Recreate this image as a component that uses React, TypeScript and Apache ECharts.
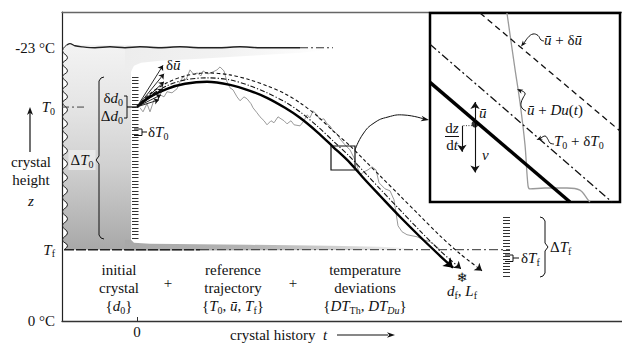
import React, { useEffect, useRef } from 'react';
import * as echarts from 'echarts';

const FONT = '"Liberation Serif", "Times New Roman", serif';

// ---------- main plot axes: t = crystal history, z = height (°C below 0) ----------
const tRange = [-7.5, 48.5];
const zRange = [0, 26];
const yTickValues = [0, 6, 18, 23];
const yTickLabels = ['0 °C', '{i|T}{s|f}', '{i|T}{s|0}', '-23 °C'];
const xTickValues = [0];
const xTickLabels = ['0'];

// ---------- crystal (gray region) outlines ----------
const crystalLeftEdge = [
  [-7.0, 23.24], [-7.45, 22.74], [-6.95, 22.15], [-7.45, 21.64], [-6.95, 21.05], [-7.45, 20.55],
  [-6.95, 19.96], [-7.45, 19.45], [-6.95, 18.86], [-7.45, 18.36], [-6.95, 17.77], [-7.45, 17.18],
  [-6.95, 16.59], [-7.45, 16.09], [-6.95, 15.5], [-7.45, 14.91], [-6.95, 14.32], [-7.45, 13.82],
  [-6.95, 13.23], [-7.45, 12.64], [-6.95, 12.05], [-7.45, 11.54], [-6.95, 10.96], [-7.45, 10.37],
  [-6.95, 9.78], [-7.45, 9.19], [-6.95, 8.6], [-7.45, 8.01], [-6.95, 7.42], [-7.45, 6.83],
  [-6.95, 6.33], [-7.3, 6.0],
];
const crystalColumnRight = [[-0.6, 23.2], [-0.6, 6.0]];
const topBand = [
  [-1.2, 23.16], [19.3, 23.07], [19.3, 22.82], [16.3, 22.57], [11.3, 22.31], [6.3, 22.06],
  [2.3, 21.89], [0.4, 21.72], [-0.3, 21.47], [-0.6, 20.97], [-1.2, 20.97],
];
const bottomBand = [
  [-1.2, 6.83], [-0.6, 6.83], [-0.3, 6.58], [1.3, 6.5], [11.3, 6.41], [19.3, 6.33],
  [24.3, 6.24], [27.3, 6.12], [27.3, 5.99], [-1.2, 5.91],
];
const topBoundary = [
  [-7.0, 23.24], [-6.7, 23.34], [-6.2, 23.16], [-5.5, 23.07], [-4.2, 22.99], [-2.7, 23.07],
  [-1.2, 22.99], [0.3, 23.07], [2.3, 22.99], [4.3, 23.07], [6.3, 22.99], [8.3, 22.99],
  [10.3, 23.07], [12.3, 22.99], [14.3, 22.99], [16.3, 22.99],
];
const topBoundaryTail = [[16.3, 22.99], [19.6, 22.99]];
const tfLineSolid = [[-7.3, 6.0], [6.3, 6.0]];
const tfLineDashDot = [[6.3, 6.0], [37.3, 6.0]];
const t0Line = [[-7.5, 18.0], [-5.1, 18.0]];

// ---------- trajectories ----------
const trajRef = [
  [0, 18.02], [1.3, 18.86], [3.0, 19.54], [4.8, 19.96], [7.0, 20.13], [9.3, 19.87], [11.3, 19.37],
  [13.0, 18.78], [14.8, 17.94], [16.3, 17.1], [18.0, 15.92], [19.6, 14.66], [21.3, 13.31],
  [22.8, 11.88], [24.3, 10.54], [26.3, 8.77], [28.3, 7.09], [30.3, 5.49], [31.6, 4.49],
];
const trajT0 = [
  [0, 18.02], [1.3, 18.95], [3.0, 19.79], [4.8, 20.29], [7.0, 20.46], [9.3, 20.29], [11.3, 19.79],
  [13.0, 19.2], [14.8, 18.44], [16.3, 17.6], [18.0, 16.42], [19.6, 15.16], [21.3, 13.81],
  [22.8, 12.47], [24.3, 11.12], [26.3, 9.35], [28.3, 7.59], [30.3, 5.91], [32.4, 4.39],
];
const trajU = [
  [0, 18.02], [1.3, 19.12], [3.0, 20.04], [4.8, 20.63], [7.0, 20.88], [9.3, 20.71], [11.3, 20.29],
  [13.0, 19.79], [14.8, 19.12], [16.3, 18.36], [18.0, 17.27], [19.6, 16.0], [21.3, 14.74],
  [22.8, 13.48], [24.3, 12.22], [26.3, 10.54], [28.3, 8.85], [30.3, 7.17], [32.3, 5.66], [34.5, 4.23],
];
const trajNoise = [
  [0.3, 17.94], [0.6, 17.6], [1.0, 18.28], [1.3, 17.6], [1.7, 18.61], [2.0, 18.44], [2.3, 19.03],
  [2.7, 18.86], [3.0, 19.29], [3.5, 19.2], [4.0, 19.54], [4.3, 20.13], [4.6, 20.55], [4.9, 20.29],
  [5.3, 21.13], [5.7, 20.71], [6.0, 20.88], [6.4, 20.63], [6.6, 21.04], [7.1, 20.79], [7.6, 20.96],
  [8.0, 21.13], [8.3, 21.38], [8.7, 21.04], [9.0, 20.13], [9.3, 19.62], [9.6, 19.45], [10.0, 18.86],
  [10.3, 18.53], [10.7, 18.86], [11.0, 18.7], [11.4, 18.28], [11.6, 17.94], [12.0, 17.52],
  [12.3, 17.18], [12.7, 16.85], [13.0, 16.51], [13.4, 16.85], [13.7, 16.68], [14.1, 17.18],
  [14.4, 17.01], [14.7, 16.85], [15.0, 16.59], [15.4, 16.85], [15.7, 16.51], [16.3, 16.42],
  [16.7, 16.85], [17.0, 17.35], [17.3, 17.1], [17.6, 17.69], [18.0, 17.35], [18.3, 16.93],
  [18.7, 17.01], [19.0, 16.59], [19.3, 16.42], [19.6, 16.0], [20.0, 15.75], [20.3, 15.32],
  [20.8, 14.82], [21.3, 14.4], [21.7, 13.73], [22.0, 13.06], [22.3, 12.3], [22.7, 12.55],
  [23.1, 12.72], [23.5, 12.97], [23.9, 12.72], [24.2, 11.63], [24.8, 11.12], [25.3, 10.96],
  [25.7, 10.2], [25.9, 9.1], [26.1, 8.01], [26.5, 7.51], [27.0, 7.26], [27.5, 7.17], [28.0, 7.09],
  [28.6, 6.84], [29.3, 6.67], [29.9, 6.33], [30.3, 5.99],
];
const fanTips = [[2.6, 21.51], [2.7, 20.8], [2.7, 20.13], [2.6, 19.54], [2.4, 19.03], [2.2, 18.61]];

// ---------- inset (local 0..100 coordinates) ----------
const insetSolid = [[0, 63.3], [73.7, 0]];
const insetDashDot = [[0, 83.5], [95.8, 0]];
const insetDashed = [[26.3, 100], [100, 37.6]];
const insetGray = [
  [40.5, 100], [44.7, 70.6], [47.4, 52.4], [50.0, 30.2], [51.6, 8.5], [52.6, 6.9], [60.5, 7.4],
  [72.1, 7.4], [78.9, 6.3], [83.2, 1.1], [84.2, 0],
];
const insetDot = [[23.7, 41.3]];
const insetVelUp = [[23.7, 41.3], [23.7, 52.9]];
const insetVelDown = [[23.7, 41.3], [23.7, 15.6]];
const insetDzdt = [[16.8, 40.4], [16.8, 26.6]];
const insetDotted = [[17.6, 40.4], [23.0, 40.4]];

// hatch scales (number of divisions)
const hatchT0Count = 48;
const hatchTfCount = 18;

const RICH: any = {
  n: { fontFamily: FONT, fontSize: 15, lineHeight: 18, color: '#111', verticalAlign: 'middle' },
  i: { fontFamily: FONT, fontSize: 15, lineHeight: 18, color: '#111', fontStyle: 'italic', verticalAlign: 'middle' },
  s: { fontFamily: FONT, fontSize: 10, lineHeight: 11, color: '#111', verticalAlign: 'bottom' },
  si: { fontFamily: FONT, fontSize: 10, lineHeight: 11, color: '#111', fontStyle: 'italic', verticalAlign: 'bottom' },
};

function head(from: number[], to: number[], len = 7, wid = 2.6, color = '#111') {
  const dx = to[0] - from[0], dy = to[1] - from[1];
  const L = Math.hypot(dx, dy) || 1;
  const ux = dx / L, uy = dy / L, px = -uy, py = ux;
  const bx = to[0] - ux * len, by = to[1] - uy * len;
  const nx = to[0] - ux * len * 0.72, ny = to[1] - uy * len * 0.72;
  return {
    type: 'polygon', z: 21, silent: true,
    shape: { points: [to, [bx + px * wid, by + py * wid], [nx, ny], [bx - px * wid, by - py * wid]] },
    style: { fill: color, stroke: null },
  };
}
function pl(points: number[][], opt: any = {}) {
  return {
    type: 'polyline', z: 20, silent: true,
    shape: { points, smooth: opt.smooth || 0 },
    style: { stroke: opt.color || '#111', lineWidth: opt.width || 1, fill: null, lineDash: opt.dash || null },
  };
}
function txt(x: number, y: number, text: string, align = 'center', extra: any = {}) {
  return {
    type: 'text', x, y, z: 22, silent: true,
    style: {
      text, fill: '#111', fontFamily: FONT, fontSize: 15, lineHeight: 18,
      align, verticalAlign: 'middle', textAlign: align, textVerticalAlign: 'middle', rich: RICH, ...extra,
    },
  };
}

const polySeries = (pts: number[][], fill: any) => ({
  type: 'custom', coordinateSystem: 'cartesian2d', xAxisIndex: 0, yAxisIndex: 0, silent: true, z: 1,
  data: [[0, 0]], encode: { x: 0, y: 1 },
  renderItem: (_p: any, api: any) => ({
    type: 'polygon',
    shape: { points: pts.map((p) => api.coord(p)) },
    style: { fill, stroke: 'none' },
  }),
});
const lineS = (data: number[][], color: string, width: number, type: any, opt: any = {}) => ({
  type: 'line', data, symbol: 'none', silent: true,
  xAxisIndex: opt.xi ?? 0, yAxisIndex: opt.yi ?? 0,
  smooth: opt.smooth ?? false, z: opt.z ?? 3,
  lineStyle: { color, width, type, cap: 'butt' },
});
const tipSeg = (d: number[][]) => {
  const a = d[d.length - 2], b = d[d.length - 1];
  return [[b[0] - (b[0] - a[0]) * 0.08, b[1] - (b[1] - a[1]) * 0.08], b];
};
const arrowS = (segs: number[][][], color: string, width: number, type: any, size: number, xi = 0, yi = 0) => ({
  type: 'lines', coordinateSystem: 'cartesian2d', xAxisIndex: xi, yAxisIndex: yi, silent: true, z: 4,
  symbol: ['none', 'arrow'], symbolSize: size,
  lineStyle: { color, width, type, opacity: 1, curveness: 0 },
  data: segs.map((c) => ({ coords: c })),
});

export default function App() {
  const ref = useRef<HTMLDivElement>(null);
  useEffect(() => {
    document.body.style.margin = '0';
    const chart = echarts.init(ref.current!, null, { renderer: 'svg', width: 622, height: 345 });

    const hatchAxis = (grid: number, max: number) => ({
      gridIndex: grid, type: 'value', min: 0, max, interval: 1,
      axisLine: { show: false }, axisTick: { show: false }, axisLabel: { show: false },
      splitLine: { show: true, lineStyle: { color: '#333', width: 1 } },
    });
    const hidden = (grid: number, min: number, max: number) => ({
      gridIndex: grid, type: 'value', min, max, show: false, splitLine: { show: false },
    });

    const colGrad = new echarts.graphic.LinearGradient(0, 0, 0, 1, [
      { offset: 0, color: '#f3f3f3' }, { offset: 0.3, color: '#e5e5e5' },
      { offset: 0.6, color: '#d0d0d0' }, { offset: 1, color: '#a8a8a8' },
    ]);
    const topGrad = new echarts.graphic.LinearGradient(0, 0, 1, 0, [
      { offset: 0, color: '#ededed' }, { offset: 0.5, color: '#f2f2f2' }, { offset: 1, color: '#ffffff' },
    ]);
    const botGrad = new echarts.graphic.LinearGradient(0, 0, 1, 0, [
      { offset: 0, color: '#a8a8a8' }, { offset: 0.45, color: '#b4b4b4' },
      { offset: 0.8, color: '#d6d6d6' }, { offset: 1, color: '#f6f6f6' },
    ]);

    const option: any = {
      animation: false,
      textStyle: { fontFamily: FONT },
      grid: [
        { left: 62, top: 12, right: 0, bottom: 24 },
        { left: 132, top: 77, width: 6.5, height: 161 },
        { left: 503, top: 217, width: 7, height: 59 },
        { left: 430, top: 13, width: 190, height: 189, show: true, borderColor: '#000', borderWidth: 2.5, backgroundColor: '#fff', z: 5 },
      ],
      xAxis: [
        {
          gridIndex: 0, type: 'value', min: tRange[0], max: tRange[1], position: 'bottom',
          axisLine: { show: true, onZero: false, lineStyle: { color: '#333', width: 1.3 } },
          axisTick: { show: true, inside: true, length: 4, customValues: xTickValues, lineStyle: { color: '#333' } },
          axisLabel: {
            customValues: xTickValues, margin: 3, fontFamily: FONT, fontSize: 15, color: '#111', lineHeight: 15,
            formatter: (v: number) => xTickLabels[xTickValues.indexOf(v)] ?? '',
          },
          splitLine: { show: false },
        },
        {
          gridIndex: 0, type: 'value', min: tRange[0], max: tRange[1], position: 'top',
          axisLine: { show: true, onZero: false, lineStyle: { color: '#666', width: 1.4 } },
          axisTick: { show: false }, axisLabel: { show: false }, splitLine: { show: false },
        },
        hidden(1, 0, 1),
        hidden(2, 0, 1),
        hidden(3, 0, 100),
      ],
      yAxis: [
        {
          gridIndex: 0, type: 'value', min: zRange[0], max: zRange[1],
          axisLine: { show: true, onZero: false, lineStyle: { color: '#222', width: 1.2 } },
          axisTick: { show: false },
          axisLabel: {
            customValues: yTickValues, margin: 7, fontFamily: FONT, fontSize: 15, color: '#111', lineHeight: 18,
            rich: RICH,
            formatter: (v: number) => yTickLabels[yTickValues.indexOf(v)] ?? '',
          },
          splitLine: { show: false },
        },
        hatchAxis(1, hatchT0Count),
        hatchAxis(2, hatchTfCount),
        hidden(3, 0, 100),
      ],
      series: [
        polySeries([...crystalColumnRight, ...crystalLeftEdge.slice().reverse()], colGrad),
        polySeries(topBand, topGrad),
        polySeries(bottomBand, botGrad),
        lineS(crystalLeftEdge, '#222', 1, 'solid', { smooth: 0.5 }),
        lineS(topBoundary, '#222', 1.4, 'solid', { smooth: 0.3 }),
        lineS(topBoundaryTail, '#333', 1.2, [8, 3, 2, 3]),
        lineS(tfLineSolid, '#222', 1.4, [10, 2]),
        lineS(tfLineDashDot, '#333', 1, [9, 3, 2, 3]),
        lineS(t0Line, '#444', 1, [7, 3, 2, 3]),
        lineS(trajNoise, '#9a9a9a', 1, 'solid'),
        lineS(trajU, '#111', 1.1, [3.5, 2.5], { smooth: 0.3 }),
        lineS(trajT0, '#111', 1.1, [5, 2, 1.2, 2], { smooth: 0.3 }),
        lineS(trajRef, '#000', 2.4, 'solid', { smooth: 0.3 }),
        arrowS([tipSeg(trajRef)], '#000', 1.5, 'solid', 9),
        arrowS([tipSeg(trajT0), tipSeg(trajU)], '#111', 1, 'solid', 7),
        arrowS(fanTips.map((p) => [trajRef[0], p]), '#111', 0.9, 'solid', 5),
        // inset
        lineS(insetGray, '#9a9a9a', 1.3, 'solid', { xi: 4, yi: 3, smooth: 0.35, z: 6 }),
        lineS(insetDashed, '#111', 1.3, [6, 4], { xi: 4, yi: 3, z: 6 }),
        lineS(insetDashDot, '#111', 1.3, [8, 3, 2, 3], { xi: 4, yi: 3, z: 6 }),
        lineS(insetSolid, '#000', 3.5, 'solid', { xi: 4, yi: 3, z: 6 }),
        lineS(insetDotted, '#333', 1, [1, 1.5], { xi: 4, yi: 3, z: 6 }),
        { ...arrowS([insetVelUp, insetVelDown, insetDzdt], '#111', 1.1, 'solid', 7, 4, 3), z: 7 },
        {
          type: 'scatter', xAxisIndex: 4, yAxisIndex: 3, data: insetDot, symbol: 'circle', symbolSize: 7,
          itemStyle: { color: '#000' }, silent: true, z: 8,
        },
      ],
      graphic: [
        // left labels
        txt(31, 162, 'crystal'), txt(31, 180, 'height'), txt(31, 201, '{i|z}'),
        pl([[30, 152], [30, 112]], { width: 1.2 }), head([30, 140], [30, 107], 8, 3),
        // ΔT0 brace
        pl([[104, 77], [101, 78], [99, 81], [99, 156], [96, 160], [99, 164], [99, 235], [101, 238], [104, 239]], { width: 1 }),
        txt(82, 160, '{n|Δ}{i|T}{s|0}', 'center', { backgroundColor: '#e8e8e8', padding: [1, 2] }),
        // δd0 / Δd0 bracket
        pl([[124, 96], [127, 96], [127, 118], [124, 118]], { width: 1 }),
        pl([[127, 107], [136, 107]], { width: 1.2 }),
        txt(123, 98, '{n|δ}{i|d}{s|0}', 'right'),
        txt(123, 116, '{n|Δ}{i|d}{s|0}', 'right'),
        // δT0
        pl([[134, 129], [142, 129], [142, 135.5], [134, 135.5]], { width: 1 }),
        pl([[142, 132], [147, 132]], { width: 1 }),
        txt(148, 132, '{n|δ}{i|T}{s|0}', 'left'),
        txt(166, 65, '{n|δ}{i|ū}', 'left'),
        // small box + callout
        { type: 'rect', z: 20, silent: true, shape: { x: 331, y: 146, width: 24, height: 24 }, style: { fill: null, stroke: '#111', lineWidth: 1.2 } },
        pl([[355, 150], [363, 134], [374, 123], [388, 117], [404, 115], [424, 119]], { smooth: 0.5, width: 1 }),
        head([412, 116.5], [429, 120], 8, 2.8),
        // δTf / ΔTf
        pl([[505, 255], [513, 255], [513, 261.5], [505, 261.5]], { width: 1 }),
        pl([[513, 258], [519, 258]], { width: 1 }),
        txt(521, 258, '{n|δ}{i|T}{s|f}', 'left'),
        pl([[540, 217], [543, 218], [545, 221], [545, 243], [548, 247], [545, 251], [545, 273], [543, 276], [540, 277]], { width: 1 }),
        txt(550, 247, '{n|Δ}{i|T}{s|f}', 'left'),
        // final crystal
        { type: 'text', x: 462, y: 277, z: 22, silent: true, style: { text: '❄', fill: '#111', fontFamily: 'DejaVu Sans', fontSize: 13, fontWeight: 'bold', align: 'center', verticalAlign: 'middle', textAlign: 'center', textVerticalAlign: 'middle' } },
        txt(462, 291, '{i|d}{s|f}{n|, }{i|L}{s|f}'),
        // bottom texts
        txt(119, 270, 'initial'), txt(119, 288, 'crystal'), txt(119, 306, '{{i|d}{s|0}}'),
        txt(168, 283, '+'),
        txt(233, 270, 'reference'), txt(233, 288, 'trajectory'), txt(233, 306, '{{i|T}{s|0}, {i|ū}, {i|T}{s|f}}'),
        txt(293, 283, '+'),
        txt(365, 270, 'temperature'), txt(365, 288, 'deviations'), txt(365, 306, '{{i|DT}{s|Th}, {i|DT}{si|Du}}'),
        txt(230, 335, 'crystal history  {t|t}', 'left', {
          lineHeight: 15,
          rich: { t: { fontFamily: FONT, fontSize: 15, lineHeight: 15, fontStyle: 'italic', color: '#111' } },
        }),
        pl([[337, 335], [388, 335]], { width: 1.2 }), head([370, 335], [395, 335], 8, 2.8),
        // inset labels
        txt(544, 40, '{i|ū}{n| + δ}{i|ū}', 'left'),
        pl([[523, 45], [528, 37.5], [533, 34], [538, 35.5], [541, 40], [544, 41]], { smooth: 0.4, width: 1 }),
        head([527, 39], [521, 46.5], 6, 2.3),
        txt(527, 110, '{i|ū}{n| + }{i|Du}{n|(}{i|t}{n|)}', 'left'),
        pl([[519, 90], [525, 93], [523, 98], [521, 103], [522, 108], [526, 111]], { smooth: 0.4, width: 1 }),
        head([524, 92.5], [517, 89], 6, 2.3),
        txt(554, 141, '{i|T}{s|0}{n| + δ}{i|T}{s|0}', 'left'),
        pl([[539, 139.5], [545, 136], [548, 139.5], [550, 143], [554, 144]], { smooth: 0.4, width: 1 }),
        head([544, 136.5], [536.5, 140], 6, 2.3),
        txt(479, 113, '{i|ū}', 'left'),
        txt(482, 155, '{i|v}', 'left'),
        txt(452, 128, '{n|d}{i|z}'),
        pl([[445, 136.5], [459, 136.5]], { width: 1 }),
        txt(452, 145, '{n|d}{i|t}'),
      ],
    };
    chart.setOption(option);
    return () => chart.dispose();
  }, []);
  return <div ref={ref} style={{ width: 622, height: 345, position: 'absolute', left: 0, top: 0 }} />;
}
